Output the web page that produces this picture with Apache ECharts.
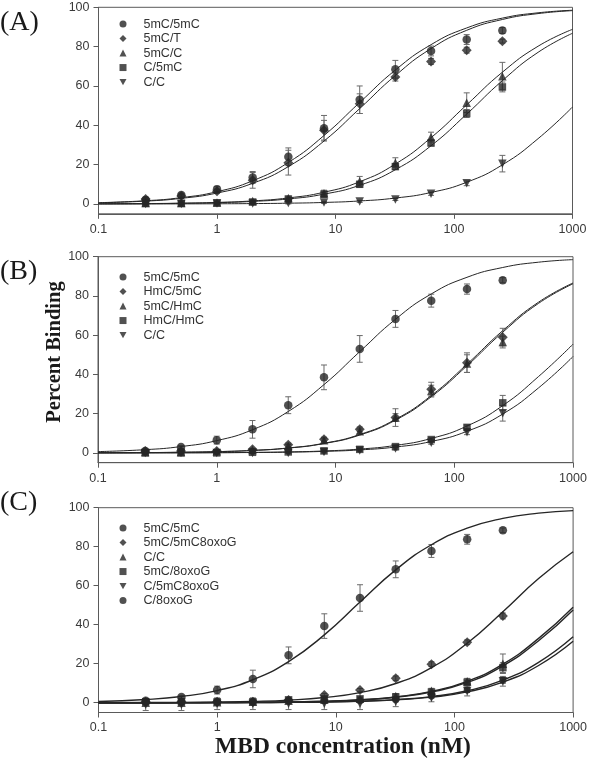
<!DOCTYPE html>
<html>
<head>
<meta charset="utf-8">
<script src="https://cdn.jsdelivr.net/npm/echarts/dist/echarts.min.js"></script>
<style>html,body{margin:0;padding:0;background:#fff}#c{width:590px;height:762px}</style>
</head>
<body>
<div id="c"></div>
<script>
// concentrations (nM)
const conc = [0.25, 0.5, 1, 2, 4, 8, 16, 32, 64, 128, 256];
// x positions at which the fitted curves were read
const curveX = [0.1, 0.25, 0.5, 1, 2, 4, 8, 16, 32, 64, 128, 256, 512, 1000];
const xTickLabels = ['0.1', '1', '10', '100', '1000'];
const yTickValues = [0, 20, 40, 60, 80, 100];

// ---- Panel A ----
const aNames = ['5mC/5mC', '5mC/T', '5mC/C', 'C/5mC', 'C/C'];
const a_5mC5mC = [2, 4.5, 7.5, 13.5, 24, 38.5, 53, 68.5, 77.8, 83.6, 88.2];
const a_5mC5mC_err = [1, 1, 1.5, 3, 4.5, 6.5, 7, 4.5, 2.5, 2.5, 1.5];
const a_5mCT = [2.5, 4, 6.5, 12, 21, 37.5, 51, 64.5, 72.5, 78.2, 82.8];
const a_5mCT_err = [1, 1, 1, 4, 6.3, 5, 5, 2, 1.5, 1.5, 1];
const a_5mCC = [0.5, 0.5, 0.8, 1.5, 3, 5.5, 11.5, 21, 34, 51.5, 65];
const a_5mCC_err = [0.5, 0.5, 0.5, 0.5, 1, 1.5, 2.5, 2.5, 2.5, 5, 7];
const a_C5mC = [0.3, 0.3, 0.5, 1, 2.5, 5, 10, 19, 31, 46, 59.5];
const a_C5mC_err = [0.5, 0.5, 0.5, 0.5, 1, 1.5, 1.5, 1.5, 1.5, 2, 2.5];
const a_CC = [0, 0, 0.2, 0.3, 0.5, 0.8, 1.3, 2.3, 5.2, 10.5, 20.5];
const a_CC_err = [0.3, 0.3, 0.3, 0.3, 0.5, 0.5, 0.5, 0.5, 0.8, 1.2, 4.2];
const a_fit1 = [0.66, 1.64, 3.23, 6.25, 11.8, 21.1, 34.8, 51.6, 68.1, 81.0, 89.5, 94.5, 97.2, 98.5];
const a_fit2 = [0.58, 1.45, 2.86, 5.56, 10.5, 19.0, 32.0, 48.5, 65.3, 79.0, 88.3, 93.8, 96.8, 98.3];
const a_fit3 = [0.08, 0.20, 0.40, 0.79, 1.56, 3.08, 5.97, 11.3, 20.3, 33.7, 50.4, 67.0, 80.2, 88.8];
const a_fit4 = [0.07, 0.16, 0.33, 0.65, 1.30, 2.56, 5.0, 9.5, 17.4, 29.6, 45.7, 62.7, 77.1, 86.8];
const a_fit5 = [0.01, 0.02, 0.05, 0.10, 0.19, 0.39, 0.77, 1.53, 3.01, 5.85, 11.05, 19.9, 33.2, 49.3];

// ---- Panel B ----
const bNames = ['5mC/5mC', 'HmC/5mC', '5mC/HmC', 'HmC/HmC', 'C/C'];
const b_5mC5mC = [1, 3, 6.5, 12, 24.3, 38.5, 53, 68.3, 77.6, 83.5, 88];
const b_5mC5mC_err = [0.8, 0.8, 2, 4.5, 4.3, 6.3, 6.8, 4.3, 3.3, 2.6, 1.3];
const b_HmC5mC = [1, 1, 1, 1.8, 4.2, 7, 12, 18, 32.5, 46, 59];
const b_HmC5mC_err = [0.5, 0.5, 0.5, 0.5, 0.8, 1, 1.2, 2, 3.5, 5, 4.5];
const b_5mCHmC = [0.5, 0.5, 0.8, 1.5, 3.5, 6.5, 11, 18, 31.5, 45.5, 56.5];
const b_5mCHmC_err = [0.5, 0.5, 0.5, 0.5, 0.8, 1, 1.2, 4.5, 3, 4.5, 3];
const b_HmCHmC = [0, 0, 0, 0.3, 0.5, 1, 1.8, 3.2, 6.8, 13, 25.5];
const b_HmCHmC_err = [0.3, 0.3, 0.3, 0.3, 0.3, 0.5, 0.5, 0.5, 1, 1.2, 3.8];
const b_CC = [0, 0, 0, 0, 0, 0.5, 1.2, 2.3, 5.2, 10.5, 20.2];
const b_CC_err = [0.3, 0.3, 0.3, 0.3, 0.3, 0.5, 0.5, 0.8, 0.8, 1.2, 4];
const b_fit1 = [0.66, 1.64, 3.23, 6.25, 11.8, 21.1, 34.8, 51.6, 68.1, 81.0, 89.5, 94.5, 97.2, 98.5];
const b_fit2 = [0.06, 0.16, 0.32, 0.64, 1.27, 2.52, 4.91, 9.36, 17.1, 29.2, 45.2, 62.3, 76.8, 86.6];
const b_fit3 = [0.06, 0.16, 0.31, 0.62, 1.23, 2.44, 4.76, 9.09, 16.7, 28.6, 44.4, 61.5, 76.2, 86.2];
const b_fit4 = [0.01, 0.03, 0.06, 0.12, 0.25, 0.49, 0.98, 1.95, 3.82, 7.36, 13.7, 24.1, 38.9, 55.4];
const b_fit5 = [0.01, 0.02, 0.05, 0.10, 0.19, 0.38, 0.77, 1.52, 2.99, 5.81, 11.0, 19.8, 33.1, 49.1];

// ---- Panel C ----
const cNames = ['5mC/5mC', '5mC/5mC8oxoG', 'C/C', '5mC/8oxoG', 'C/5mC8oxoG', 'C/8oxoG'];
const c_5mC5mC = [1, 3, 6.5, 12.2, 24.3, 39.3, 53.7, 68.4, 77.8, 83.8, 88.4];
const c_5mC5mC_err = [0.8, 0.8, 2, 4.5, 4.3, 6.3, 6.8, 4.3, 3.3, 2.5, 1.2];
const c_5mC5mC8oxoG = [0.5, 0.5, 0.5, 0.5, 1.4, 4, 6.5, 12.5, 19.8, 31, 44.5];
const c_5mC5mC8oxoG_err = [0.5, 0.5, 0.5, 0.5, 0.5, 0.8, 0.8, 1.2, 1.2, 1.2, 1.5];
const c_CC = [0, 0, 0.3, 0.5, 1, 1.5, 2, 3.5, 6.2, 11, 20];
const c_CC_err = [1, 1, 1, 1, 1, 1, 1, 1.2, 1.2, 1.5, 5];
const c_5mC8oxoG = [0.5, 0.5, 0.5, 0.5, 1.5, 2, 2, 3, 5.5, 10.5, 18];
const c_5mC8oxoG_err = [0.5, 0.5, 0.5, 0.5, 0.8, 0.8, 0.8, 1, 1, 1, 2.5];
const c_C5mC8oxoG = [-1, -1, -0.5, -0.5, -0.5, -0.5, -0.5, 0.5, 2.5, 6, 11];
const c_C5mC8oxoG_err = [3, 3, 3, 3, 3, 3, 3, 2.5, 2, 2.5, 2.5];
const c_C8oxoG = [0.5, 0.5, 0.5, 0.5, 1, 1, 1, 1.5, 3.5, 6.5, 11.5];
const c_C8oxoG_err = [0.5, 0.5, 0.5, 0.5, 0.5, 0.5, 0.5, 0.8, 1, 1.2, 1.5];
const c_fit1 = [0.66, 1.64, 3.23, 6.25, 11.8, 21.1, 34.8, 51.6, 68.1, 81.0, 89.5, 94.5, 97.2, 98.5];
const c_fit2 = [0.03, 0.09, 0.17, 0.34, 0.68, 1.35, 2.67, 5.19, 9.88, 18.0, 30.5, 46.7, 63.7, 77.4];
const c_fit3 = [0.01, 0.02, 0.05, 0.10, 0.19, 0.38, 0.76, 1.51, 2.98, 5.8, 11.0, 19.8, 33.0, 49.0];
const c_fit4 = [0.01, 0.02, 0.05, 0.09, 0.18, 0.36, 0.72, 1.43, 2.83, 5.5, 10.4, 18.9, 31.8, 47.6];
const c_fit5 = [0.01, 0.01, 0.03, 0.05, 0.10, 0.20, 0.41, 0.81, 1.61, 3.16, 6.13, 11.6, 20.7, 33.8];
const c_fit6 = [0.00, 0.01, 0.02, 0.05, 0.09, 0.18, 0.37, 0.73, 1.45, 2.86, 5.57, 10.6, 19.1, 31.5];

// ---- styling / assembly ----
const INK = '#262626';
const downTri = 'path://M0,0L10,0L5,9Z';
const SYM = {
  circle: {symbol: 'circle', size: 8.5, icon: 'circle'},
  small: {symbol: 'circle', size: 7, icon: 'circle'},
  diamond: {symbol: 'diamond', size: 10, icon: 'diamond'},
  tri: {symbol: 'triangle', size: 8.5, icon: 'triangle'},
  rect: {symbol: 'rect', size: 7.5, icon: 'rect'},
  down: {symbol: downTri, size: 8.5, icon: downTri}
};

const panels = [
  {
    names: aNames,
    sets: [[a_5mC5mC, a_5mC5mC_err, 'circle'], [a_5mCT, a_5mCT_err, 'diamond'], [a_5mCC, a_5mCC_err, 'tri'], [a_C5mC, a_C5mC_err, 'rect'], [a_CC, a_CC_err, 'down']],
    fits: [a_fit1, a_fit2, a_fit3, a_fit4, a_fit5], fitWidth: 1,
    grid: {left: 98.5, right: 17.5, top: 7.3, height: 206.5},
    legendTop: 16.8
  },
  {
    names: bNames,
    sets: [[b_5mC5mC, b_5mC5mC_err, 'circle'], [b_HmC5mC, b_HmC5mC_err, 'diamond'], [b_5mCHmC, b_5mCHmC_err, 'tri'], [b_HmCHmC, b_HmCHmC_err, 'rect'], [b_CC, b_CC_err, 'down']],
    fits: [b_fit1, b_fit2, b_fit3, b_fit4, b_fit5], fitWidth: 1,
    grid: {left: 98, right: 17, top: 256.7, height: 206},
    legendTop: 269.8
  },
  {
    names: cNames,
    sets: [[c_5mC5mC, c_5mC5mC_err, 'circle'], [c_5mC5mC8oxoG, c_5mC5mC8oxoG_err, 'diamond'], [c_CC, c_CC_err, 'tri'], [c_5mC8oxoG, c_5mC8oxoG_err, 'rect'], [c_C5mC8oxoG, c_C5mC8oxoG_err, 'down'], [c_C8oxoG, c_C8oxoG_err, 'small']],
    fits: [c_fit1, c_fit2, c_fit3, c_fit4, c_fit5, c_fit6], fitWidth: 1.4,
    grid: {left: 98.5, right: 14.5, top: 507.7, height: 204.8},
    legendTop: 520.8
  }
];

const labelFont = {fontFamily: 'Liberation Sans, Arial, sans-serif', fontSize: 12.5, color: '#3a3a3a'};

function errRender(params, api) {
  const x = api.value(0), y = api.value(1), e = api.value(2);
  const t = api.coord([x, y + e]);
  const b = api.coord([x, y - e]);
  const hw = 3;
  const st = {stroke: '#6a6a6a', lineWidth: 1};
  return {type: 'group', children: [
    {type: 'line', shape: {x1: t[0], y1: t[1], x2: b[0], y2: b[1]}, style: st},
    {type: 'line', shape: {x1: t[0] - hw, y1: t[1], x2: t[0] + hw, y2: t[1]}, style: st},
    {type: 'line', shape: {x1: b[0] - hw, y1: b[1], x2: b[0] + hw, y2: b[1]}, style: st}
  ]};
}

const grid = [], xAxis = [], yAxis = [], series = [], legend = [];
panels.forEach((p, gi) => {
  grid.push(Object.assign({show: true, borderColor: '#5a5a5a', borderWidth: 1, backgroundColor: 'transparent'}, p.grid));
  xAxis.push({
    type: 'log', logBase: 10, min: 0.1, max: 1000, gridIndex: gi,
    axisLine: {show: true, onZero: false, lineStyle: {color: '#5a5a5a', width: 1}},
    axisTick: {show: true, inside: false, length: 5, lineStyle: {color: '#5a5a5a'}},
    minorTick: {show: false}, splitLine: {show: false},
    axisLabel: Object.assign({margin: 9, formatter: v => {
      const s = String(parseFloat(Number(v).toPrecision(3)));
      return xTickLabels.includes(s) ? s : '';
    }}, labelFont)
  });
  yAxis.push({
    type: 'value', min: -5, max: 100, gridIndex: gi,
    axisLine: {show: true, onZero: false, lineStyle: {color: '#5a5a5a', width: 1}},
    axisTick: {show: true, inside: false, length: 5, lineStyle: {color: '#5a5a5a'}, customValues: yTickValues},
    splitLine: {show: false},
    axisLabel: Object.assign({margin: 9, customValues: yTickValues}, labelFont)
  });
  // error bars
  p.sets.forEach(([vals, errs]) => {
    series.push({
      type: 'custom', xAxisIndex: gi, yAxisIndex: gi, z: 1, silent: true,
      renderItem: errRender, encode: {x: 0, y: 1},
      data: conc.map((c, i) => [c, vals[i], errs[i]])
    });
  });
  // fitted curves
  p.fits.forEach((f) => {
    series.push({
      type: 'line', xAxisIndex: gi, yAxisIndex: gi, z: 2, silent: true,
      showSymbol: false, smooth: 0.5,
      lineStyle: {color: INK, width: p.fitWidth},
      data: curveX.map((x, i) => [x, f[i]])
    });
  });
  // points
  p.sets.forEach(([vals, errs, sym], si) => {
    series.push({
      type: 'scatter', name: p.names[si], xAxisIndex: gi, yAxisIndex: gi, z: 3,
      symbol: SYM[sym].symbol, symbolSize: SYM[sym].size,
      itemStyle: {color: INK},
      data: conc.map((c, i) => [c, vals[i]])
    });
  });
  legend.push({
    orient: 'vertical', left: 119.5, top: p.legendTop, padding: 0, itemGap: 0,
    itemWidth: 7, itemHeight: 7, selectedMode: false,
    textStyle: {fontFamily: 'Liberation Sans, Arial, sans-serif', fontSize: 12.5, color: '#333', lineHeight: 14.5, padding: [0, 0, 0, 12]},
    data: p.names.map((n, si) => ({name: n, icon: SYM[p.sets[si][2]].icon}))
  });
});

const serif = 'Liberation Serif, Times New Roman, serif';
const graphic = [
  {type: 'text', left: 0, top: 9, style: {text: '(A)', font: '28px ' + serif, fill: '#1a1a1a'}},
  {type: 'text', left: 0, top: 258, style: {text: '(B)', font: '28px ' + serif, fill: '#1a1a1a'}},
  {type: 'text', left: 0, top: 489, style: {text: '(C)', font: '28px ' + serif, fill: '#1a1a1a'}},
  {type: 'text', x: 55, y: 352, rotation: Math.PI / 2,
   style: {text: 'Percent Binding', font: 'bold 20.5px ' + serif, fill: '#1a1a1a', align: 'center', verticalAlign: 'middle'}},
  {type: 'text', x: 343, y: 747,
   style: {text: 'MBD concentration (nM)', font: 'bold 23.5px ' + serif, fill: '#1a1a1a', align: 'center', verticalAlign: 'middle'}}
];

const chart = echarts.init(document.getElementById('c'), null, {renderer: 'canvas'});
chart.setOption({animation: false, backgroundColor: '#fff', grid, xAxis, yAxis, series, legend, graphic});
</script>
</body>
</html>
